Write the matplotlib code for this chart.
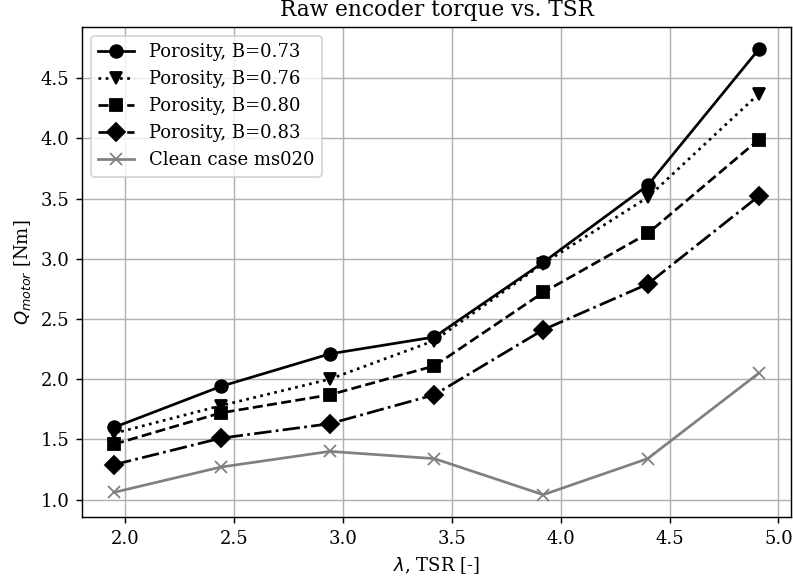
import matplotlib

matplotlib.use("Agg")
import matplotlib.pyplot as plt

plt.rcParams["font.family"] = "serif"
plt.rcParams["font.serif"] = ["DejaVu Serif"]
plt.rcParams["font.size"] = 10

tsr = [1.95, 2.44, 2.94, 3.42, 3.92, 4.40, 4.91]

q_b073 = [1.60, 1.94, 2.21, 2.35, 2.97, 3.61, 4.74]
q_b076 = [1.55, 1.78, 2.00, 2.32, 2.96, 3.51, 4.37]
q_b080 = [1.46, 1.72, 1.87, 2.11, 2.72, 3.21, 3.99]
q_b083 = [1.29, 1.51, 1.63, 1.87, 2.41, 2.79, 3.52]
q_clean = [1.06, 1.27, 1.40, 1.34, 1.04, 1.34, 2.05]

DPI = 130
fig, ax = plt.subplots(figsize=(793 / DPI, 583 / DPI), dpi=DPI)
fig.subplots_adjust(left=0.1034, right=0.9975, top=0.9537, bottom=0.1132)

ms = 7
ax.plot(tsr, q_b073, color="black", linestyle="-", marker="o", markersize=ms, label="Porosity, B=0.73")
ax.plot(tsr, q_b076, color="black", linestyle=":", marker="v", markersize=ms, label="Porosity, B=0.76")
ax.plot(tsr, q_b080, color="black", linestyle="--", marker="s", markersize=ms, label="Porosity, B=0.80")
ax.plot(tsr, q_b083, color="black", linestyle="-.", marker="D", markersize=ms, label="Porosity, B=0.83")
ax.plot(tsr, q_clean, color="grey", linestyle="-", marker="x", markersize=ms, label="Clean case ms020")

ax.set_title("Raw encoder torque vs. TSR", fontsize=12)
ax.set_xlabel(r"$\lambda$, TSR [-]")
ax.set_ylabel(r"$Q_{motor}$ [Nm]")
ax.grid(True)
ax.legend(loc="upper left")

fig.savefig("out.png", dpi=DPI)
